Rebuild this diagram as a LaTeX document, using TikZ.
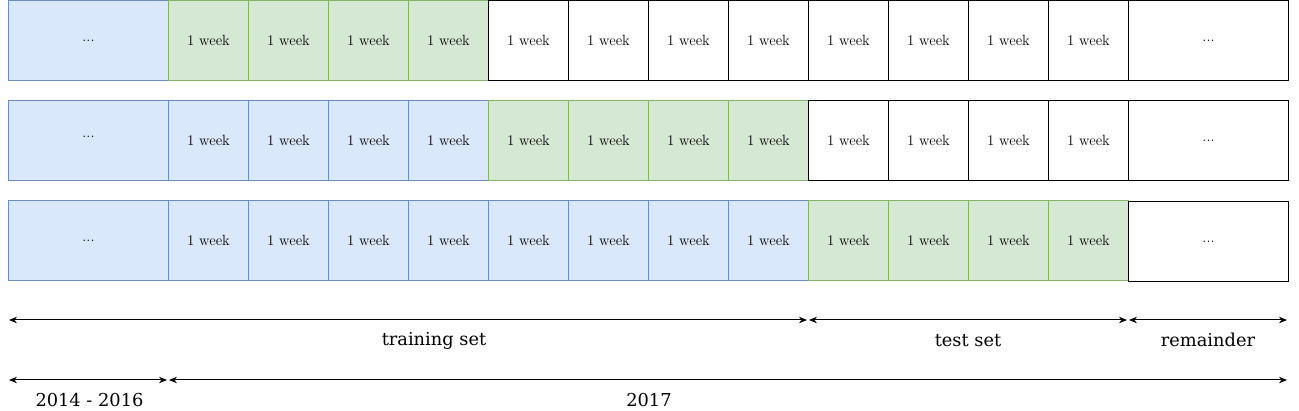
\documentclass[tikz,border=0pt]{standalone}
\usepackage{fontspec}
\newfontfamily\labelfont{DejaVu Serif}
\usetikzlibrary{arrows.meta}
\definecolor{bluefill}{HTML}{DAE8FC}
\definecolor{bluedraw}{HTML}{6C8EBF}
\definecolor{greenfill}{HTML}{D5E8D4}
\definecolor{greendraw}{HTML}{82B366}
\tikzset{
  cell/.style={draw, line width=1pt, inner sep=0pt, anchor=north west,
    minimum width=80pt, minimum height=80pt,
    font=\fontsize{14.8}{17}\selectfont},
  widecell/.style={cell, minimum width=160pt},
  bluecell/.style={fill=bluefill, draw=bluedraw},
  greencell/.style={fill=greenfill, draw=greendraw},
  whitecell/.style={fill=white, draw=black},
  span/.style={line width=1pt, {Stealth[length=8pt,width=6.5pt]}-{Stealth[length=8pt,width=6.5pt]}, shorten <=1pt, shorten >=1pt},
  lbl/.style={font=\labelfont\fontsize{17.8}{21}\selectfont, inner sep=0pt, anchor=base},
}
\begin{document}
\begin{tikzpicture}[x=1pt,y=-1pt]
\useasboundingbox (0,0) rectangle (1299,411);
% row 1
\node[widecell,bluecell] (r1c0) at (8,0) {...};
\foreach \i in {1,...,12}{
  \pgfmathtruncatemacro{\xx}{88+80*\i}
  \ifnum\i<5
    \node[cell,greencell] (r1c\i) at (\xx,0) {1 week};
  \else
    \node[cell,whitecell] (r1c\i) at (\xx,0) {1 week};
  \fi
}
\node[widecell,whitecell] (r1c13) at (1128,0) {...};
% row 2
\node[widecell,bluecell] (r2c0) at (8,100) {\raisebox{7pt}{...}};
\foreach \i in {1,...,12}{
  \pgfmathtruncatemacro{\xx}{88+80*\i}
  \ifnum\i<5
    \node[cell,bluecell] (r2c\i) at (\xx,100) {1 week};
  \else\ifnum\i<9
    \node[cell,greencell] (r2c\i) at (\xx,100) {1 week};
  \else
    \node[cell,whitecell] (r2c\i) at (\xx,100) {1 week};
  \fi\fi
}
\node[widecell,whitecell] (r2c13) at (1128,100) {...};
% row 3
\node[widecell,bluecell] (r3c0) at (8,200) {...};
\foreach \i in {1,...,12}{
  \pgfmathtruncatemacro{\xx}{88+80*\i}
  \ifnum\i<9
    \node[cell,bluecell] (r3c\i) at (\xx,200) {1 week};
  \else
    \node[cell,greencell] (r3c\i) at (\xx,200) {1 week};
  \fi
}
\node[widecell,whitecell] (r3c13) at (1128,201) {...};
% spans
\coordinate (a0) at (8,320);
\coordinate (a1) at (808,320);
\coordinate (a2) at (1128,320);
\coordinate (a3) at (1288,320);
\coordinate (b0) at (8,380);
\coordinate (b1) at (168,380);
\coordinate (b2) at (1288,380);
\draw[span] (a0) -- (a1);
\draw[span] (a1) -- (a2);
\draw[span] (a2) -- (a3);
\draw[span] (b0) -- (b1);
\draw[span] (b1) -- (b2);
\node[lbl] (ltrain) at (434,346) {training set};
\node[lbl] (ltest) at (968,347) {test set};
\node[lbl] (lrem) at (1208,347) {remainder};
\node[lbl] (lold) at (89.5,407) {2014 - 2016};
\node[lbl] (lnew) at (649,407) {2017};
\end{tikzpicture}
\end{document}
